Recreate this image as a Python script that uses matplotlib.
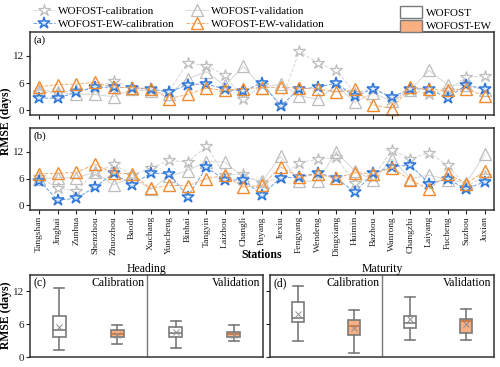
import numpy as np
import matplotlib
matplotlib.use("Agg")
import matplotlib.pyplot as plt
from matplotlib.patches import Patch
from matplotlib.lines import Line2D

plt.rcParams['font.family'] = ['Liberation Serif', 'DejaVu Serif']
plt.rcParams['font.size'] = 8

stations = ["Tangshan", "Jinghai", "Zunhua", "Shenzhou", "Zhuozhou", "Baodi", "Xuchang",
            "Yuncheng", "Binhai", "Tangyin", "Laizhou", "Changli", "Puyang", "Jiexiu",
            "Fengyang", "Wendeng", "Dingxiang", "Huimin", "Bazhou", "Wanrong", "Changzhi",
            "Laiyang", "Fucheng", "Suzhou", "Juxian"]

# (a) heading RMSE
wofost_cal_a = [4.0, 3.8, 4.5, 5.0, 6.5, 5.0, 4.5, 4.3, 10.5, 9.8, 7.8, 2.4, 5.5, 1.5,
                13.0, 10.5, 8.8, 3.9, 4.8, 2.6, 4.5, 3.6, 4.5, 7.3, 7.6]
wofost_val_a = [4.5, 4.0, 3.6, 3.5, 3.0, 4.6, 4.2, 3.6, 7.0, 8.5, 5.5, 9.7, 5.0, 5.8,
                3.2, 2.5, 5.5, 1.8, 3.8, 2.0, 4.5, 8.8, 5.6, 5.5, 4.5]
ew_cal_a = [2.7, 2.7, 4.0, 5.1, 5.1, 5.0, 4.7, 4.0, 5.7, 5.8, 4.7, 4.2, 6.1, 0.9,
            4.7, 5.1, 6.0, 3.1, 4.8, 2.9, 4.8, 4.6, 2.8, 5.6, 4.7]
ew_val_a = [5.2, 5.7, 5.8, 6.2, 5.1, 5.0, 4.8, 2.6, 3.5, 4.9, 4.4, 4.8, 5.0, 5.1,
            4.9, 4.7, 4.1, 4.6, 1.2, 0.4, 5.2, 4.6, 4.4, 4.8, 3.1]

# (b) maturity RMSE
wofost_cal_b = [6.3, 3.8, 3.3, 7.4, 9.2, 6.8, 8.3, 10.1, 9.7, 13.2, 6.8, 7.0, 5.0, 6.2,
                9.6, 10.3, 10.8, 5.0, 6.3, 12.5, 10.4, 11.8, 9.0, 4.2, 6.5]
wofost_val_b = [6.0, 6.2, 6.2, 7.4, 4.6, 6.3, 3.6, 6.5, 7.8, 9.8, 9.7, 6.3, 5.4, 11.0,
                5.4, 5.5, 11.9, 7.8, 5.6, 10.4, 6.0, 6.8, 5.8, 5.0, 11.4]
ew_cal_b = [5.5, 1.2, 1.6, 4.1, 7.2, 4.6, 7.2, 7.1, 2.0, 8.5, 5.7, 5.7, 2.3, 6.2,
            6.3, 7.3, 6.1, 3.0, 7.2, 8.7, 9.0, 4.9, 5.9, 3.7, 5.3]
ew_val_b = [7.1, 7.2, 7.4, 9.2, 7.2, 7.1, 3.8, 4.5, 4.4, 6.0, 6.7, 4.1, 4.5, 8.6,
            6.3, 7.0, 6.1, 7.3, 7.1, 8.4, 5.7, 3.6, 7.1, 4.9, 7.6]

# box stats (c) heading and (d) maturity
# order: WOFOST cal, EW cal, WOFOST val, EW val -> (whislo, q1, med, q3, whishi, mean)
heading_stats = [(1.4, 3.7, 4.9, 7.5, 12.7, 5.6),
                 (2.5, 3.7, 4.3, 4.9, 5.9, 4.1),
                 (1.7, 3.7, 4.4, 5.5, 6.7, 4.7),
                 (2.9, 3.8, 4.2, 4.6, 5.9, 4.1)]
maturity_stats = [(3.0, 6.4, 7.2, 10.0, 13.0, 7.9),
                  (0.9, 4.1, 5.8, 6.8, 8.7, 5.3),
                  (3.2, 5.3, 6.2, 7.6, 11.0, 7.0),
                  (3.2, 4.5, 6.7, 7.0, 8.8, 6.1)]

gray_edge = '#bdbdbd'
gray_line = '#d6d6d6'
blue_edge = '#2f78d9'
blue_face = '#dce9fb'
blue_line = '#6b9ee2'
orange_edge = '#f28a2e'
orange_line = '#f6ac70'
ew_box = '#f8af82'
box_edge = '#7a7a7a'

fig = plt.figure(figsize=(5, 3.67), dpi=100)

series_style = [
    dict(marker='*', ms=9, mfc='white', mec=gray_edge, mew=0.9, color=gray_line, ls='--', lw=0.7),
    dict(marker='^', ms=9, mfc='none', mec=gray_edge, mew=0.9, color=gray_line, ls='-', lw=0.7),
    dict(marker='*', ms=9, mfc=blue_face, mec=blue_edge, mew=1.1, color=blue_line, ls='--', lw=0.7),
    dict(marker='^', ms=9, mfc='none', mec=orange_edge, mew=1.0, color=orange_line, ls='--', lw=0.7),
]
labels = ["WOFOST-calibration", "WOFOST-validation", "WOFOST-EW-calibration", "WOFOST-EW-validation"]

x = np.arange(len(stations))


def station_panel(rect, data, tag):
    ax = fig.add_axes(rect)
    for vals, st in zip(data, series_style):
        ax.plot(x, vals, clip_on=False, **st)
    ax.set_xlim(-0.5, len(stations) - 0.5)
    ax.set_ylim(-1, 17.3)
    ax.set_yticks([0, 6, 12])
    ax.set_xticks(x)
    ax.tick_params(direction='out', length=3, width=0.8, pad=1.5, labelsize=8, colors='#222222')
    for s in ax.spines.values():
        s.set_linewidth(1.1)
        s.set_color('#333333')
    ax.text(0.008, 0.96, tag, transform=ax.transAxes, ha='left', va='top', fontsize=8)
    return ax


ax_a = station_panel([0.06, 0.687, 0.928, 0.226],
                     [wofost_cal_a, wofost_val_a, ew_cal_a, ew_val_a], "(a)")
ax_a.set_xticklabels([])
ax_b = station_panel([0.06, 0.428, 0.928, 0.223],
                     [wofost_cal_b, wofost_val_b, ew_cal_b, ew_val_b], "(b)")
ax_b.set_xticklabels(stations, rotation=90, fontsize=6.8)
fig.text(0.524, 0.305, "Stations", ha='center', va='center', fontweight='bold', fontsize=8.5)

fig.text(0.012, 0.67, "RMSE (days)", rotation=90, ha='center', va='center',
         fontweight='bold', fontsize=8.5)

handles = [Line2D([], [], **st) for st in series_style]
fig.legend(handles[0::2] + handles[1::2], labels[0::2] + labels[1::2], ncol=2,
           loc='upper left', bbox_to_anchor=(0.045, 1.01), frameon=False, fontsize=8,
           handlelength=2.0, columnspacing=1.0, labelspacing=0.25, handletextpad=0.3)

box_handles = [Patch(facecolor='white', edgecolor=box_edge, lw=1.0),
               Patch(facecolor=ew_box, edgecolor=box_edge, lw=1.0)]
fig.legend(box_handles, ["WOFOST", "WOFOST-EW"], loc='upper left',
           bbox_to_anchor=(0.78, 1.01), frameon=False, fontsize=8,
           handlelength=2.0, handleheight=1.3, labelspacing=0.1, handletextpad=0.3)


def box_panel(rect, stats, title, tag, show_labels):
    ax = fig.add_axes(rect)
    bstats = []
    for lo, q1, med, q3, hi, mean in stats:
        bstats.append(dict(whislo=lo, q1=q1, med=med, q3=q3, whishi=hi, mean=mean, fliers=[]))
    parts = ax.bxp(bstats, positions=[1, 2, 3, 4], widths=0.22, capwidths=0.17,
                   showmeans=True, patch_artist=True,
                   boxprops=dict(edgecolor=box_edge, lw=1.2),
                   whiskerprops=dict(color=box_edge, lw=1.2),
                   capprops=dict(color=box_edge, lw=1.2),
                   medianprops=dict(color=box_edge, lw=1.2),
                   meanprops=dict(marker='x', markeredgecolor='#8c8c8c', markersize=4, mew=0.7))
    for i, b in enumerate(parts['boxes']):
        b.set_facecolor('white' if i % 2 == 0 else ew_box)
    for i, m in enumerate(parts['medians']):
        if i % 2 == 1:
            m.set_color('#c8743e')
    ax.axvline(2.5, color='#7a7a7a', lw=1.0)
    ax.set_xlim(0.5, 4.5)
    ax.set_ylim(0, 15)
    ax.set_yticks([0, 6, 12])
    ax.set_xticks([])
    ax.tick_params(direction='out', length=3, width=0.8, pad=1.5, labelsize=8, colors='#222222')
    if not show_labels:
        ax.set_yticklabels([])
    for s in ax.spines.values():
        s.set_linewidth(1.1)
        s.set_color('#333333')
    ax.set_title(title, fontsize=8.5, pad=1.5)
    ax.text(0.015, 0.97, tag, transform=ax.transAxes, ha='left', va='top', fontsize=8.5)
    ax.text(0.49, 0.97, "Calibration", transform=ax.transAxes, ha='right', va='top', fontsize=8.5)
    ax.text(0.99, 0.97, "Validation", transform=ax.transAxes, ha='right', va='top', fontsize=8.5)
    return ax


ax_c = box_panel([0.06, 0.026, 0.466, 0.225], heading_stats, "Heading", "(c)", True)
ax_d = box_panel([0.54, 0.026, 0.448, 0.225], maturity_stats, "Maturity", "(d)", False)
fig.text(0.012, 0.14, "RMSE (days)", rotation=90, ha='center', va='center',
         fontweight='bold', fontsize=8.5)

fig.savefig("out.png", dpi=100)
